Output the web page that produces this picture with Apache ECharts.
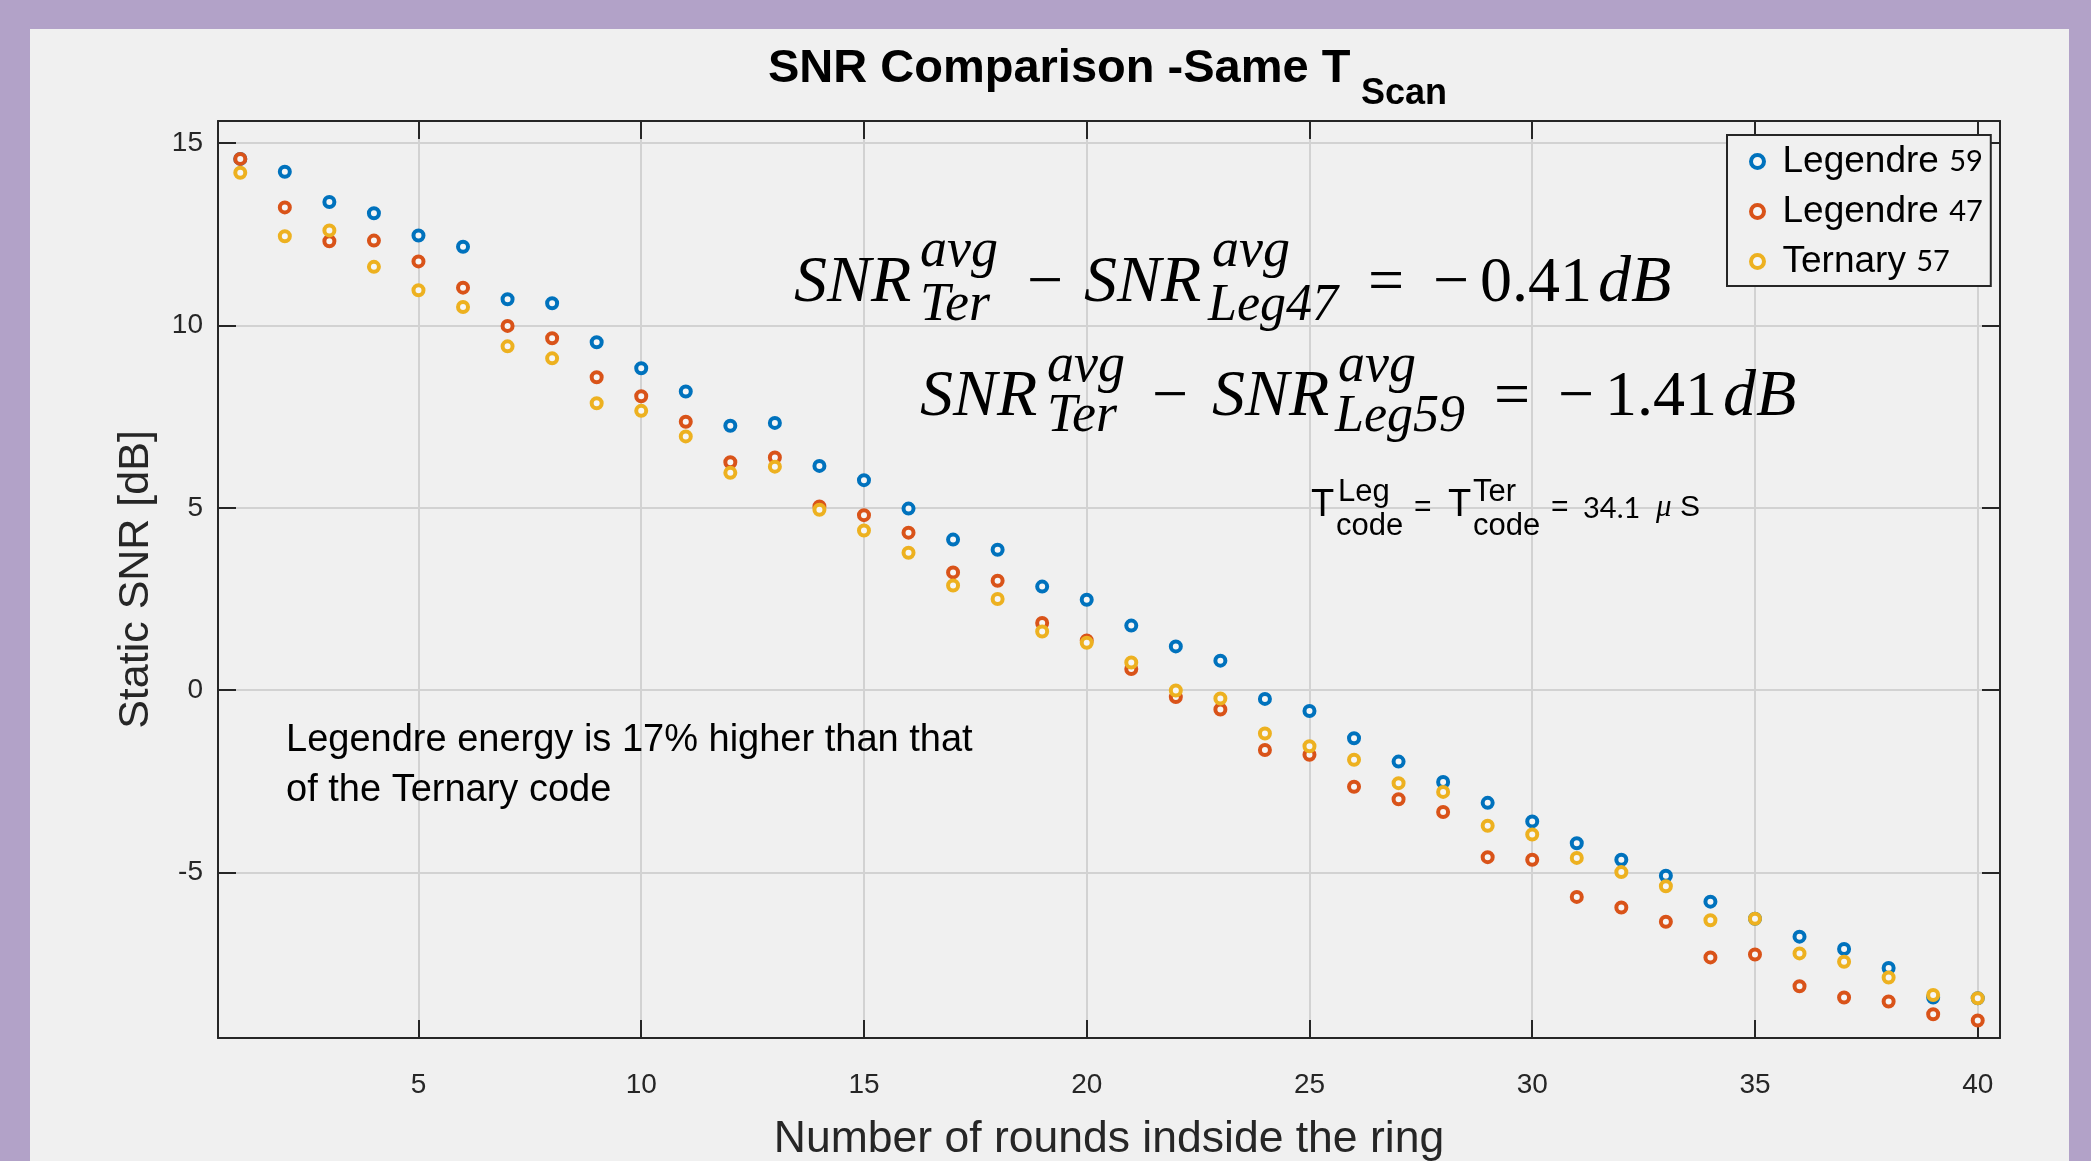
<!DOCTYPE html>
<html>
<head>
<meta charset="utf-8">
<style>
  html, body { margin: 0; padding: 0; background: #b2a2c8; }
  #panel { position: absolute; left: 30px; top: 29px; width: 2039px; height: 1132px; background: #f0f0f0; }
  #chart { position: absolute; left: 0; top: 0; width: 2091px; height: 1161px; }
</style>
<script src="https://cdn.jsdelivr.net/npm/echarts@6/dist/echarts.min.js"></script>
</head>
<body>
<div id="panel"></div>
<div id="chart"></div>
<script>
var rounds = [1, 2, 3, 4, 5, 6, 7, 8, 9, 10, 11, 12, 13, 14, 15, 16, 17, 18, 19, 20,
  21, 22, 23, 24, 25, 26, 27, 28, 29, 30, 31, 32, 33, 34, 35, 36, 37, 38, 39, 40];
var leg59 = [14.57, 14.22, 13.39, 13.08, 12.47, 12.16, 10.72, 10.61, 9.54, 8.83,
  8.19, 7.25, 7.33, 6.15, 5.76, 4.98, 4.13, 3.85, 2.84, 2.48,
  1.77, 1.2, 0.81, -0.24, -0.57, -1.32, -1.96, -2.52, -3.09, -3.6,
  -4.2, -4.65, -5.09, -5.8, -6.27, -6.76, -7.1, -7.62, -8.43, -8.45];
var leg47 = [14.57, 13.24, 12.31, 12.33, 11.76, 11.04, 9.99, 9.65, 8.58, 8.06,
  7.36, 6.25, 6.38, 5.04, 4.8, 4.32, 3.23, 3.0, 1.84, 1.36,
  0.58, -0.19, -0.53, -1.64, -1.77, -2.65, -2.99, -3.34, -4.58, -4.65,
  -5.67, -5.96, -6.35, -7.33, -7.25, -8.12, -8.43, -8.54, -8.89, -9.06];
var ter57 = [14.19, 12.45, 12.61, 11.61, 10.97, 10.51, 9.43, 9.1, 7.87, 7.66,
  6.96, 5.96, 6.13, 4.95, 4.38, 3.77, 2.87, 2.5, 1.61, 1.3,
  0.76, -0.01, -0.23, -1.19, -1.54, -1.91, -2.55, -2.79, -3.72, -3.96,
  -4.6, -4.99, -5.38, -6.31, -6.27, -7.22, -7.45, -7.88, -8.36, -8.45];
var seriesNames = ['Legendre 59', 'Legendre 47', 'Ternary 57'];
var xTicks = [5, 10, 15, 20, 25, 30, 35, 40];
var yTicks = [-5, 0, 5, 10, 15];

var SANS = 'Liberation Sans';
var SERIF = 'Liberation Serif';
var ink = '#262626';
var colors = ['#0072bd', '#d95319', '#edb120'];

function pairs(ys) {
  return rounds.map(function(r, i) { return [r, ys[i]]; });
}

// text piece placed by its left edge and baseline
function txt(x, base, s, size, fam, italic, weight) {
  return {
    type: 'text', x: x, y: base - 0.3 * size, z: 100,
    style: {
      text: s, fontSize: size, fontFamily: fam || SANS,
      fontStyle: italic ? 'italic' : 'normal', fontWeight: weight || 'normal',
      fill: '#000', align: 'left', verticalAlign: 'middle',
      textAlign: 'left', textVerticalAlign: 'middle'
    }
  };
}

var notes = [
  txt(768, 83, 'SNR Comparison -Same T', 47, SANS, false, 'bold'),
  txt(1361, 105, 'Scan', 36, SANS, false, 'bold'),

  txt(794, 303, 'SNR', 66, SERIF, true),
  txt(920, 268, 'avg', 54, SERIF, true),
  txt(920, 322, 'Ter', 54, SERIF, true),
  txt(1027, 303, '\u2212', 64, SERIF),
  txt(1084, 303, 'SNR', 66, SERIF, true),
  txt(1212, 268, 'avg', 54, SERIF, true),
  txt(1208, 322, 'Leg47', 52, SERIF, true),
  txt(1368, 303, '=', 64, SERIF),
  txt(1433, 303, '\u2212', 64, SERIF),
  txt(1480, 303, '0.41', 64, SERIF),
  txt(1598, 303, 'dB', 66, SERIF, true),

  txt(920, 417, 'SNR', 66, SERIF, true),
  txt(1047, 383, 'avg', 54, SERIF, true),
  txt(1047, 433, 'Ter', 54, SERIF, true),
  txt(1152, 417, '\u2212', 64, SERIF),
  txt(1212, 417, 'SNR', 66, SERIF, true),
  txt(1338, 383, 'avg', 54, SERIF, true),
  txt(1335, 433, 'Leg59', 52, SERIF, true),
  txt(1494, 417, '=', 64, SERIF),
  txt(1558, 417, '\u2212', 64, SERIF),
  txt(1605, 417, '1.41', 64, SERIF),
  txt(1723, 417, 'dB', 66, SERIF, true),

  txt(1311, 517, 'T', 38),
  txt(1338, 502, 'Leg', 31),
  txt(1336, 536, 'code', 31),
  txt(1414, 517, '=', 30),
  txt(1448, 517, 'T', 38),
  txt(1473, 502, 'Ter', 31),
  txt(1473, 536, 'code', 31),
  txt(1551, 517, '=', 30),
  txt(1583, 517, '34.1', 29, 'Lato'),
  txt(1656, 517, '\u03bc', 31, SERIF, true),
  txt(1680, 517, 'S', 30),

  txt(286, 752, 'Legendre energy is 17% higher than that', 38),
  txt(286, 802, 'of the Ternary code', 38)
];

var el = document.getElementById('chart');
var chart = echarts.init(el, null, { renderer: 'canvas' });

function boxAxis(pos, min, max, ticks, extra) {
  var a = {
    type: 'value', position: pos, min: min, max: max,
    axisLine: { show: true, onZero: false, lineStyle: { color: ink, width: 2 } },
    axisTick: { show: true, inside: true, length: 18, customValues: ticks,
      lineStyle: { color: ink, width: 2 } },
    axisLabel: { show: false },
    splitLine: { show: false }
  };
  return Object.assign(a, extra || {});
}

chart.setOption({
  animation: false,
  backgroundColor: 'transparent',
  grid: { left: 218, right: 91, top: 121, bottom: 123, containLabel: false, outerBoundsMode: 'none' },
  graphic: notes,
  legend: {
    orient: 'vertical', left: 1727, top: 135,
    padding: [8, 8, 6, 22],
    itemWidth: 40, itemHeight: 13, itemGap: 13,
    borderColor: ink, borderWidth: 2, borderRadius: 0,
    backgroundColor: '#f0f0f0',
    data: seriesNames.map(function(n) { return { name: n, itemStyle: { borderWidth: 4 } }; }),
    formatter: function(name) {
      var k = name.lastIndexOf(' ');
      return '{a|' + name.slice(0, k) + '} {b|' + name.slice(k + 1) + '}';
    },
    textStyle: {
      fontFamily: SANS, fontSize: 37, color: '#000',
      rich: {
        a: { fontFamily: SANS, fontSize: 37, color: '#000', lineHeight: 40 },
        b: { fontFamily: 'Lato', fontSize: 29, color: '#000', lineHeight: 40 }
      }
    }
  },
  xAxis: [
    boxAxis('bottom', 0.5, 40.5, xTicks, {
      name: 'Number of rounds indside the ring',
      nameLocation: 'middle', nameGap: 79,
      nameTextStyle: { fontFamily: SANS, fontSize: 44.5, color: ink },
      axisLabel: { show: true, customValues: xTicks, margin: 33,
        fontFamily: SANS, fontSize: 28, color: ink },
      splitLine: { show: true, lineStyle: { color: '#d2d2d2', width: 2 } }
    }),
    boxAxis('top', 0.5, 40.5, xTicks)
  ],
  yAxis: [
    boxAxis('left', -9.54, 15.61, yTicks, {
      name: 'Static SNR [dB]',
      nameLocation: 'middle', nameGap: 60,
      nameTextStyle: { fontFamily: SANS, fontSize: 43, color: ink },
      axisLabel: { show: true, customValues: yTicks, margin: 15,
        padding: [7, 0, 0, 0],
        fontFamily: SANS, fontSize: 28, color: ink },
      splitLine: { show: true, lineStyle: { color: '#d2d2d2', width: 2 } }
    }),
    boxAxis('right', -9.54, 15.61, yTicks)
  ],
  series: [leg59, leg47, ter57].map(function(ys, i) {
    return {
      name: seriesNames[i], type: 'scatter', xAxisIndex: 0, yAxisIndex: 0,
      symbol: 'circle', symbolSize: 10,
      itemStyle: { color: '#f6f6f6', borderColor: colors[i], borderWidth: 4, opacity: 1 },
      data: pairs(ys)
    };
  })
});
window.addEventListener('resize', function() { chart.resize(); });
</script>
</body>
</html>
